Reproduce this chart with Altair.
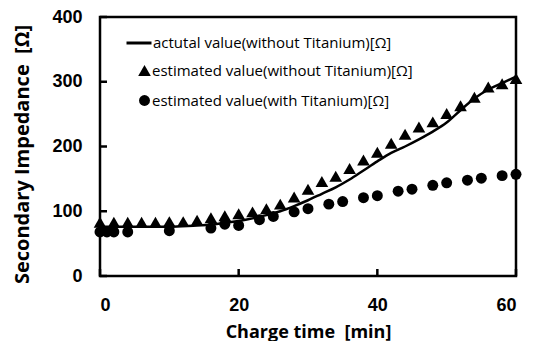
import altair as alt
import pandas as pd

S1 = "actutal value(without Titanium)[Ω]"
S2 = "estimated value(without Titanium)[Ω]"
S3 = "estimated value(with Titanium)[Ω]"

# actual value (without Titanium) - solid line
line_t = [0, 5, 10, 14, 16, 18, 20, 22, 24, 26, 28, 30, 32, 34, 36, 38, 40, 42, 44, 46, 48, 50, 52, 54, 56, 58, 60]
line_v = [76, 76, 76, 78, 79, 82, 85, 89, 94, 100, 108, 117, 127, 137, 149, 163, 177, 190, 200, 211, 223, 237, 256, 274, 288, 298, 308]

# estimated value (without Titanium) - triangles
tri_t = [0, 2, 4, 6, 8, 10, 12, 14, 16, 18, 20, 22, 24, 26, 28, 30, 32, 34, 36, 38, 40, 42, 44, 46, 48, 50, 52, 54, 56, 58, 60]
tri_v = [83, 83, 83, 83, 83, 84, 84, 86, 90, 93, 96, 99, 104, 111, 122, 134, 146, 154, 166, 179, 191, 205, 219, 230, 238, 251, 263, 276, 292, 297, 305]

# estimated value (with Titanium) - circles
cir_t = [0, 1, 2, 4, 10, 16, 18, 20, 23, 25, 28, 30, 33, 35, 38, 40, 43, 45, 48, 50, 53, 55, 58, 60]
cir_v = [68, 68, 68, 68, 70, 74, 80, 78, 87, 92, 99, 104, 111, 115, 121, 124, 131, 134, 140, 144, 148, 151, 155, 157]

x_ticks = [0, 20, 40, 60]
y_ticks = [0, 100, 200, 300, 400]

line_df = pd.DataFrame({"t": line_t, "v": line_v, "series": S1})
pts_df = pd.concat([
    pd.DataFrame({"t": tri_t, "v": tri_v, "series": S2}),
    pd.DataFrame({"t": cir_t, "v": cir_v, "series": S3}),
])
xtick_df = pd.DataFrame({"t": x_ticks})
ytick_df = pd.DataFrame({"v": y_ticks})

TICK_FONT = "Liberation Sans"
TITLE_FONT = "Open Sans"
NB = "\u00a0"
W, H = 416, 259
TICK = 7

xs = alt.Scale(domain=[0, 60], nice=False)
ys = alt.Scale(domain=[0, 400], nice=False)
x_axis = alt.Axis(orient="bottom", values=x_ticks, ticks=False,
                  title="Charge time" + NB * 2 + "[min]",
                  titleX=208, titleY=61, titleBaseline="alphabetic",
                  titleFontSize=18, labelPadding=20)
y_axis = alt.Axis(orient="left", values=y_ticks, ticks=False,
                  title="Secondary Impedance" + NB * 2 + "[Ω]",
                  titleX=-78, titleY=137, titleAngle=270,
                  titleBaseline="middle", titleAlign="center",
                  titleFontSize=20, labelPadding=18)
X = alt.X("t:Q", scale=xs, axis=x_axis)
Y = alt.Y("v:Q", scale=ys, axis=y_axis)

line = alt.Chart(line_df).mark_line(color="black", strokeWidth=2.5,
                                    interpolate="monotone").encode(
    x=X, y=Y,
    color=alt.Color("series:N", scale=alt.Scale(domain=[S1], range=["black"]),
                    legend=alt.Legend(title=None, orient="none", legendX=25, legendY=12,
                                      padding=0, symbolSize=625, symbolStrokeWidth=3,
                                      labelFont=TITLE_FONT, labelFontSize=15,
                                      labelColor="black", labelLimit=500, labelOffset=0)),
)

pt_legend = alt.Legend(title=None, orient="none", legendX=37, legendY=46,
                       padding=0, rowPadding=13,
                       labelFont=TITLE_FONT, labelFontSize=15,
                       labelColor="black", labelLimit=500, labelOffset=0)

points = alt.Chart(pts_df).mark_point(filled=True, opacity=1, color="black").encode(
    x=X, y=Y,
    shape=alt.Shape("series:N", scale=alt.Scale(domain=[S2, S3],
                    range=["triangle-up", "circle"]), legend=pt_legend),
    size=alt.Size("series:N", scale=alt.Scale(domain=[S2, S3], range=[160, 120]),
                  legend=pt_legend),
)

# inward tick marks
xticks = alt.Chart(xtick_df).mark_rule(color="black", strokeWidth=2.5).encode(
    x=X, y=alt.value(H), y2=alt.value(H - TICK))
yticks = alt.Chart(ytick_df).mark_rule(color="black", strokeWidth=2.5).encode(
    y=Y, x=alt.value(0), x2=alt.value(TICK))

chart = alt.layer(line, xticks, yticks, points).properties(
    width=W, height=H,
    autosize=alt.AutoSizeParams(type="none"),
    padding={"left": 92, "top": 9, "right": 14, "bottom": 65},
).configure_view(
    stroke="black", strokeWidth=2.5
).configure_axis(
    grid=False, domain=False,
    labelFont=TICK_FONT, labelFontSize=18, labelFontWeight="bold", labelColor="black",
    titleFont=TITLE_FONT, titleFontWeight="bold", titleColor="black",
)

chart.save("out.html", embed_options={"renderer": "svg", "actions": False})
